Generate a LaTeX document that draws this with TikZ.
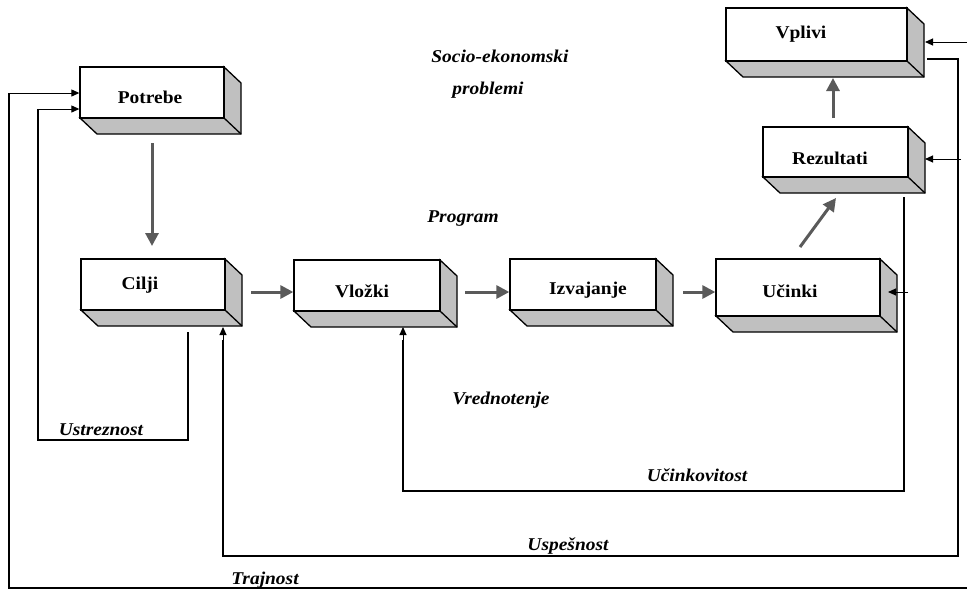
\documentclass[tikz,border=0pt]{standalone}
\usepackage{fontspec}
\setmainfont[FakeStretch=1.08]{Liberation Serif}
\usetikzlibrary{arrows.meta,calc}
\definecolor{sidegray}{HTML}{C0C0C0}
\definecolor{arrgray}{HTML}{5A5A5A}
\tikzset{
  frontbox/.style={draw=black, line width=1.3pt, fill=white, inner sep=0pt},
  sideface/.style={draw=black, line width=1.3pt, fill=sidegray, line join=miter},
  boxtext/.style={font=\fontsize{18}{20}\selectfont\bfseries, inner sep=0pt},
  lbl/.style={font=\fontsize{18}{20}\selectfont\bfseries\itshape, inner sep=0pt},
  bigarr/.style={draw=arrgray, line width=3pt, -{Triangle[length=13pt,width=13pt]}},
  thinarr/.style={draw=black, line width=1pt, -{Triangle[length=8pt,width=7pt]}},
  loopline/.style={draw=black, line width=1.2pt},
}
\newcommand{\tdbox}[5]{%
  \pgfmathsetmacro\bw{#4-#2}\pgfmathsetmacro\bh{#5-#3}%
  \pgfmathsetmacro\bx{(#2+#4)/2}\pgfmathsetmacro\by{(#3+#5)/2}%
  \filldraw[sideface] (#4,#3) -- (#4+17,#3+16) -- (#4+17,#5+16) -- (#2+17,#5+16) -- (#2,#5) -- (#4,#5) -- cycle;
  \draw[sideface] (#4,#5) -- (#4+17,#5+16);
  \node[frontbox, minimum width=\bw pt, minimum height=\bh pt] (#1) at (\bx,\by) {};
}
\begin{document}
\begin{tikzpicture}[x=1pt,y=-1pt]
\useasboundingbox (0,0) rectangle (967,590);
% boxes
\tdbox{potrebe}{80}{67}{224}{118}
\tdbox{vplivi}{726}{8}{907}{61}
\tdbox{rezultati}{763}{127}{908}{177}
\tdbox{cilji}{81}{259}{225}{310}
\tdbox{vlozki}{294}{260}{440}{311}
\tdbox{izvajanje}{510}{259}{656}{310}
\tdbox{ucinki}{716}{259}{880}{316}
% box texts
\node[boxtext] (potrebe-t) at (150,97) {Potrebe};
\node[boxtext] (vplivi-t) at (801,34) {Vplivi};
\node[boxtext] (rezultati-t) at (830,158) {Rezultati};
\node[boxtext] (cilji-t) at (140,285) {Cilji};
\node[boxtext] (vlozki-t) at (362,291) {Vložki};
\node[boxtext] (izvajanje-t) at (588,290) {Izvajanje};
\node[boxtext] (ucinki-t) at (790,291) {Učinki};
% labels
\node[lbl] (l-socio) at (500,56) {Socio-ekonomski};
\node[lbl] (l-probl) at (488,90) {problemi};
\node[lbl] (l-prog) at (463,219) {Program};
\node[lbl] (l-vred) at (501,400) {Vrednotenje};
\node[lbl] (l-ustr) at (101,430) {Ustreznost};
\node[lbl] (l-ucink) at (697,475) {Učinkovitost};
\node[lbl] (l-usp) at (568,546) {Uspešnost};
\node[lbl] (l-traj) at (265,580) {Trajnost};
% main flow (gray arrows)
\draw[bigarr] (152,143) -- (152,246);
\draw[bigarr] (251,292) -- (vlozki.west |- 0,292);
\draw[bigarr] (465,292) -- (izvajanje.west |- 0,292);
\draw[bigarr] (683,292) -- (ucinki.west |- 0,292);
\draw[bigarr] (800,247) -- (836,198);
\draw[bigarr] (833,118) -- (833,78);
% feedback loops
\coordinate (ustr-s) at (188,332);
\draw[loopline] (ustr-s) -- (188,440) -- (38,440) -- (38,109);
\draw[thinarr] (38,109) -- (potrebe.west |- 0,109);
\draw[loopline] (967,588) -- (9,588) -- (9,93);
\draw[thinarr] (9,93) -- (potrebe.west |- 0,93);
\draw[thinarr] (967,42) -- (925,42);
\coordinate (usp-s) at (927,59);
\draw[loopline] (usp-s) -- (958,59) -- (958,556) -- (223,556) -- (223,340);
\draw[thinarr] (223,340) -- (223,327);
\draw[thinarr] (961,159) -- (925,159);
\coordinate (ucink-s) at (904,197);
\draw[loopline] (ucink-s) -- (904,491) -- (403,491) -- (403,340);
\draw[thinarr] (403,340) -- (403,327);
\draw[thinarr] (908,292) -- (888,292);
\end{tikzpicture}
\end{document}
